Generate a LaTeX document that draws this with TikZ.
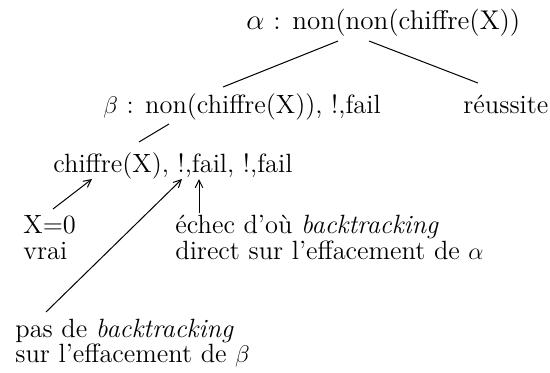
\documentclass[tikz,border=0pt]{standalone}
\usepackage{fontspec}
\usetikzlibrary{arrows.meta,calc}
\begin{document}
\begin{tikzpicture}[x=0.5pt,y=-0.5pt,
  lbl/.style={inner sep=0pt,anchor=base west,font=\fontsize{13.2}{12}\selectfont},
  head/.style={lbl,font=\fontsize{13.55}{12}\selectfont},
  link/.style={line width=0.5pt},
  ptr/.style={line width=0.5pt,-{Straight Barb[length=3.8pt,width=3.8pt]}}]
\useasboundingbox (0,0) rectangle (550,372);

% resolution tree
\node[head] (alpha) at (246,29) {$\alpha$ : non(non(chiffre(X))};
\node[lbl] (beta)  at (103,113) {$\beta$ : non(chiffre(X)), !,fail};
\node[lbl] (ok)    at (463,113) {réussite};
\node[lbl] (goal)  at (53,172) {chiffre(X), !,fail, !,fail};

\draw[link] ($(alpha.base west)+(92,12)$) -- ($(beta.base west)+(120,-26)$);
\draw[link] ($(alpha.base west)+(123,12)$) -- ($(ok.base west)+(15,-30)$);
\draw[link] ($(beta.base west)+(66,11)$) -- ($(goal.base west)+(86,-30)$);

% comments
\node[lbl] (xa) at (23,233) {X=0};
\node[lbl] (xb) at (23,259) {vrai};
\node[lbl] (ea) at (175,233) {échec d’où \textit{backtracking}};
\node[lbl] (eb) at (175,259) {direct sur l’effacement de $\alpha$};
\node[lbl] (pa) at (15,337) {pas de \textit{backtracking}};
\node[lbl] (pb) at (15,362) {sur l’effacement de $\beta$};

\draw[ptr] ($(xa.base west)+(30,-24)$) -- ($(goal.base west)+(39,7)$);
\draw[ptr] ($(ea.base west)+(24,-20)$) -- ($(goal.base west)+(146,7)$);
\draw[ptr] ($(pa.base west)+(31,-25)$) -- ($(goal.base west)+(129,7)$);
\end{tikzpicture}
\end{document}
